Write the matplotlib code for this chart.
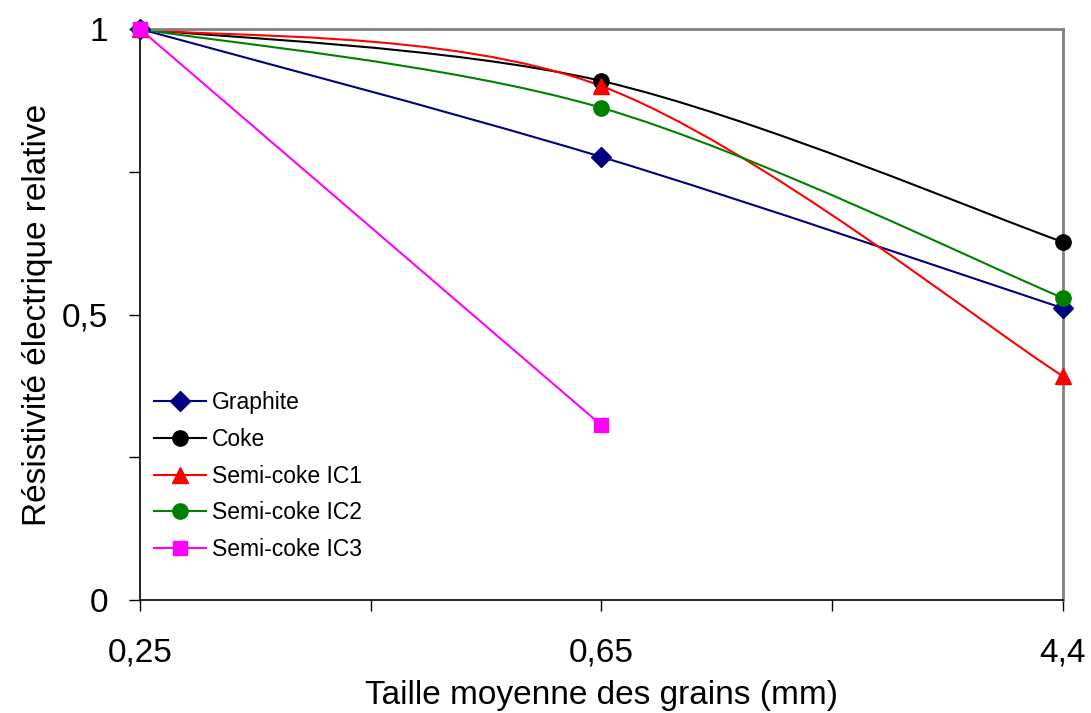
import matplotlib
matplotlib.use("Agg")
import matplotlib.pyplot as plt
from matplotlib.path import Path
from matplotlib.patches import PathPatch
from matplotlib.lines import Line2D

plt.rcParams['font.family'] = ['Liberation Sans', 'DejaVu Sans']

# data
grain_labels = ["0,25", "0,65", "4,4"]
graphite = [1.0, 0.776, 0.511]
coke = [1.0, 0.909, 0.627]
ic1 = [1.0, 0.900, 0.392]
ic2 = [1.0, 0.862, 0.529]
ic3 = [1.0, 0.306]

series = [
    ("Graphite", graphite, "#000080", "D", 10),
    ("Coke", coke, "black", "o", 11),
    ("Semi-coke IC1", ic1, "#FF0000", "^", 12),
    ("Semi-coke IC2", ic2, "#008000", "o", 11),
    ("Semi-coke IC3", ic3, "#FF00FF", "s", 10),
]


def smooth_path(xs, ys):
    # Excel-like smoothed line: cubic bezier through the points
    pts = list(zip(xs, ys))
    if len(pts) < 3:
        return Path(pts)
    verts = [pts[0]]
    codes = [Path.MOVETO]
    n = len(pts)
    for i in range(n - 1):
        p0 = pts[max(i - 1, 0)]
        p1 = pts[i]
        p2 = pts[i + 1]
        p3 = pts[min(i + 2, n - 1)]
        c1 = (p1[0] + (p2[0] - p0[0]) / 6, p1[1] + (p2[1] - p0[1]) / 6)
        c2 = (p2[0] - (p3[0] - p1[0]) / 6, p2[1] - (p3[1] - p1[1]) / 6)
        verts += [c1, c2, p2]
        codes += [Path.CURVE4] * 3
    return Path(verts, codes)


fig = plt.figure(figsize=(10.91, 7.13), dpi=100)
ax = fig.add_axes([0.1283, 0.1585, 0.8460, 0.8008])

handles = []
for name, vals, col, mk, ms in series:
    xs = list(range(len(vals)))
    ax.add_patch(PathPatch(smooth_path(xs, vals), fill=False, edgecolor=col,
                           lw=1.5, clip_on=False))
    ax.plot(xs, vals, linestyle="none", marker=mk, color=col, ms=ms,
            clip_on=False, zorder=3)
    handles.append(Line2D([], [], color=col, lw=1.5, marker=mk, ms=ms, label=name))

ax.set_xlim(0, 2)
ax.set_ylim(0, 1)
ax.set_xticks([0, 1, 2])
ax.set_xticklabels(grain_labels)
ax.set_xticks([0.5, 1.5], minor=True)
ax.set_yticks([0, 0.5, 1])
ax.set_yticklabels(["0", "0,5", "1"])
ax.set_yticks([0.25, 0.75], minor=True)
ax.tick_params(which="both", direction="out", length=8, width=1, labelsize=24)
ax.tick_params(axis="x", pad=19)
ax.tick_params(axis="y", pad=15)

for s in ["left", "bottom"]:
    ax.spines[s].set_color("black")
    ax.spines[s].set_linewidth(1.2)
for s in ["top", "right"]:
    ax.spines[s].set_color("#808080")
    ax.spines[s].set_linewidth(2)

ax.set_xlabel("Taille moyenne des grains (mm)", fontsize=24, labelpad=8)
ax.set_ylabel("Résistivité électrique relative", fontsize=24, labelpad=6)

ax.legend(handles=handles, loc="center left", bbox_to_anchor=(0.0, 0.217),
          frameon=False, fontsize=16.5, handlelength=2.3, handletextpad=0.25,
          labelspacing=0.6, borderaxespad=0.2)

fig.savefig("out.png", dpi=100)
